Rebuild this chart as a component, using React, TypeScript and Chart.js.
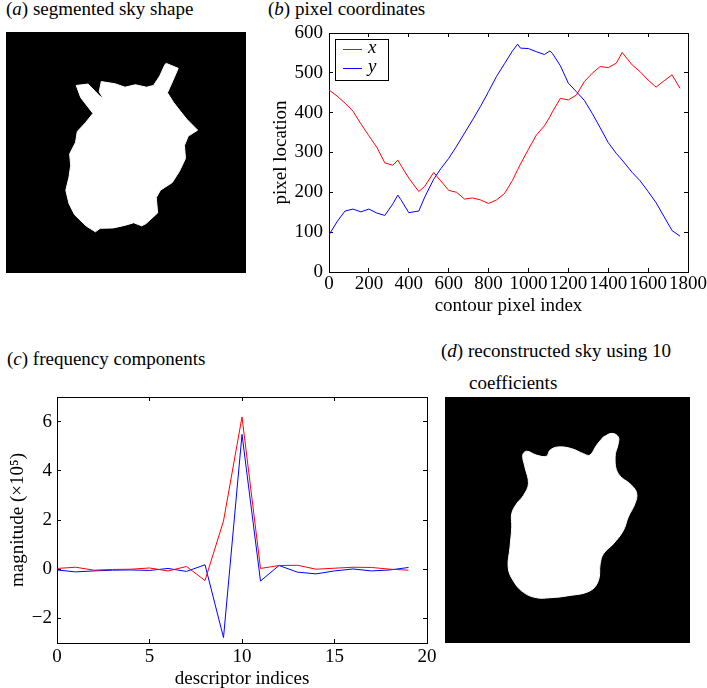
import React, { useEffect, useRef } from "react";
import { Chart, registerables } from "chart.js";

Chart.register(...registerables);

const FONT_FAMILY = "'Liberation Serif', serif";
const FONT_SIZE = 19;
const RED = "#ff0000";
const BLUE = "#0000ff";

// ---- (b) pixel coordinates along the sky contour ----
const contourIndex = [
  0, 40, 80, 120, 160, 200, 240, 280, 320, 345, 360, 400, 450, 480, 525, 560, 600, 640, 680, 720, 760, 800, 840, 880,
  920, 946, 960, 1000, 1040, 1080, 1108, 1120, 1160, 1200, 1240, 1280, 1320, 1360, 1400, 1440, 1470, 1520, 1560,
  1600, 1640, 1680, 1720, 1760,
];
const contourX = [
  457, 442, 424, 404, 372, 342, 313, 274, 268, 281, 268, 236, 202, 215, 250, 229, 205, 200, 183, 186, 181, 172, 181,
  197, 230, 257, 271, 308, 344, 367, 390, 402, 436, 432, 444, 478, 499, 516, 513, 524, 551, 520, 503, 482, 464, 480,
  495, 461,
];
const contourY = [
  93, 126, 153, 158, 151, 158, 148, 142, 171, 193, 182, 149, 153, 188, 233, 259, 285, 316, 349, 382, 416, 453, 491,
  523, 555, 572, 562, 561, 553, 546, 555, 549, 518, 474, 453, 431, 398, 362, 325, 298, 281, 250, 229, 202, 174, 139,
  104, 90,
];
const indexRange = [0, 1800];
const indexStep = 200;
const pixelRange = [0, 600];
const pixelStep = 100;

// ---- (c) frequency components ----
const descriptorIndex = [0, 1, 2, 3, 4, 5, 6, 7, 8, 9, 10, 11, 12, 13, 14, 15, 16, 17, 18, 19];
const magnitudeX = [
  0.03, 0.08, -0.04, -0.01, 0, 0.05, -0.07, 0.11, -0.46, 1.96, 6.19, 0.03, 0.15, 0.16, 0, 0.04, 0.08, 0.07, 0, -0.04,
];
const magnitudeY = [
  -0.03, -0.11, -0.07, -0.04, -0.03, -0.05, 0.03, -0.09, 0.18, -2.78, 5.48, -0.48, 0.15, -0.12, -0.19, -0.07, 0.01,
  -0.07, -0.03, 0.07,
];
const descriptorRange = [0, 20];
const descriptorTicks = [0, 5, 10, 15, 20];
const magnitudeRange = [-3, 7];
const magnitudeTicks = [-2, 0, 2, 4, 6];

// ---- (d) reconstructed contour (image pixel units) ----
const reconstructedX = [
  446, 470, 488, 488, 479, 488, 526, 540, 535, 516, 502, 474, 446, 437, 432, 408, 343, 296, 258, 221, 192, 178, 183,
  188, 188, 202, 221, 235, 225, 219, 230, 258, 286, 296, 319, 357, 390, 408, 427,
];
const reconstructedY = [
  112, 102, 112, 130, 168, 215, 248, 271, 299, 337, 375, 412, 440, 468, 515, 544, 558, 563, 563, 548, 515, 478, 422,
  365, 327, 299, 276, 243, 196, 163, 152, 163, 166, 149, 140, 145, 159, 163, 135,
];
const IMAGE_SIZE = 690;

const font = { family: FONT_FAMILY, size: FONT_SIZE };

function fixedSize(size: number) {
  return (scale: any) => {
    if (scale.isHorizontal()) scale.height = size;
    else scale.width = size;
    scale.paddingLeft = 0;
    scale.paddingRight = 0;
    scale.paddingTop = 0;
    scale.paddingBottom = 0;
  };
}

function makeAxis(o: {
  position: string;
  min: number;
  max: number;
  step?: number;
  values?: number[];
  size: number;
  labels: boolean;
  tickPad?: number;
  title?: string;
  titlePad?: any;
}) {
  return {
    type: "linear",
    position: o.position,
    min: o.min,
    max: o.max,
    afterBuildTicks: o.values
      ? (scale: any) => {
          scale.ticks = (o.values as number[]).map((v) => ({ value: v }));
        }
      : undefined,
    afterFit: fixedSize(o.size),
    grid: { display: true, drawOnChartArea: false, drawTicks: true, tickLength: -4, color: "#000", lineWidth: 1 },
    border: { display: true, color: "#000", width: 1 },
    ticks: {
      display: o.labels,
      stepSize: o.step,
      padding: o.tickPad ?? 0,
      color: "#000",
      font,
      maxRotation: 0,
      minRotation: 0,
      autoSkip: false,
      callback: (v: any) => String(v).replace("-", "\u2212"),
    },
    title: o.title
      ? { display: true, text: o.title, color: "#000", font, padding: o.titlePad }
      : { display: false },
  };
}

const baseOptions = {
  animation: false,
  responsive: false,
  events: [],
  plugins: { legend: { display: false }, tooltip: { enabled: false } },
};

function pixelCoordsConfig() {
  return {
    type: "scatter",
    data: {
      datasets: [
        {
          label: "x",
          data: contourIndex.map((i, k) => ({ x: i, y: contourX[k] })),
          showLine: true,
          borderColor: RED,
          borderWidth: 1,
          pointRadius: 0,
          fill: false,
        },
        {
          label: "y",
          data: contourIndex.map((i, k) => ({ x: i, y: contourY[k] })),
          showLine: true,
          borderColor: BLUE,
          borderWidth: 1,
          pointRadius: 0,
          fill: false,
        },
      ],
    },
    options: {
      ...baseOptions,
      layout: { padding: { top: 13, right: 19, left: 0, bottom: 0 } },
      scales: {
        x: makeAxis({
          position: "bottom", min: indexRange[0], max: indexRange[1], step: indexStep, size: 48, labels: true,
          tickPad: 5, title: "contour pixel index", titlePad: { top: 0, bottom: 3 },
        }),
        y: makeAxis({
          position: "left", min: pixelRange[0], max: pixelRange[1], step: pixelStep, size: 67, labels: true,
          tickPad: 10, title: "pixel location", titlePad: { top: 8, bottom: 0 },
        }),
        x2: makeAxis({ position: "top", min: indexRange[0], max: indexRange[1], step: indexStep, size: 0, labels: false }),
        y2: makeAxis({ position: "right", min: pixelRange[0], max: pixelRange[1], step: pixelStep, size: 0, labels: false }),
      },
    },
  };
}

function frequencyConfig() {
  return {
    type: "scatter",
    data: {
      datasets: [
        {
          label: "x",
          data: descriptorIndex.map((i, k) => ({ x: i, y: magnitudeX[k] })),
          showLine: true,
          borderColor: RED,
          borderWidth: 1,
          pointRadius: 0,
          fill: false,
        },
        {
          label: "y",
          data: descriptorIndex.map((i, k) => ({ x: i, y: magnitudeY[k] })),
          showLine: true,
          borderColor: BLUE,
          borderWidth: 1,
          pointRadius: 0,
          fill: false,
        },
      ],
    },
    options: {
      ...baseOptions,
      layout: { padding: { top: 22, right: 18, left: 0, bottom: 0 } },
      scales: {
        x: makeAxis({
          position: "bottom", min: descriptorRange[0], max: descriptorRange[1], values: descriptorTicks, size: 47,
          labels: true, tickPad: 7, title: "descriptor indices", titlePad: { top: 0, bottom: 0 },
        }),
        y: makeAxis({
          position: "left", min: magnitudeRange[0], max: magnitudeRange[1], values: magnitudeTicks, size: 57,
          labels: true, tickPad: 9, title: "magnitude (\u00d710\u2075)", titlePad: { top: 7, bottom: 0 },
        }),
        x2: makeAxis({ position: "top", min: descriptorRange[0], max: descriptorRange[1], values: descriptorTicks, size: 0, labels: false }),
        y2: makeAxis({ position: "right", min: magnitudeRange[0], max: magnitudeRange[1], values: magnitudeTicks, size: 0, labels: false }),
      },
    },
  };
}

function shapeConfig(xs: number[], ys: number[], tension: number) {
  const pts = xs.map((x, k) => ({ x, y: ys[k] }));
  pts.push(pts[0]);
  return {
    type: "scatter",
    data: {
      datasets: [
        {
          data: pts,
          showLine: true,
          fill: "shape",
          backgroundColor: "#ffffff",
          borderColor: "#ffffff",
          borderWidth: 1,
          pointRadius: 0,
          tension,
        },
      ],
    },
    options: {
      ...baseOptions,
      layout: { padding: 0 },
      scales: {
        x: { type: "linear", display: false, min: 0, max: IMAGE_SIZE },
        y: { type: "linear", display: false, min: 0, max: IMAGE_SIZE, reverse: true },
      },
    },
  };
}

function ChartBox(props: { left: number; top: number; width: number; height: number; background?: string; make: () => any }) {
  const ref = useRef<HTMLCanvasElement>(null);
  useEffect(() => {
    const chart = new Chart(ref.current as HTMLCanvasElement, props.make());
    return () => chart.destroy();
  }, []);
  return (
    <canvas
      ref={ref}
      width={props.width}
      height={props.height}
      style={{
        position: "absolute",
        left: props.left,
        top: props.top,
        width: props.width,
        height: props.height,
        background: props.background || "transparent",
      }}
    />
  );
}

const textStyle: React.CSSProperties = {
  position: "absolute",
  fontFamily: FONT_FAMILY,
  fontSize: FONT_SIZE,
  lineHeight: "19px",
  color: "#000",
  whiteSpace: "nowrap",
};

function Label(props: { left: number; top: number; children: React.ReactNode }) {
  return <div style={{ ...textStyle, left: props.left, top: props.top }}>{props.children}</div>;
}

const I = (s: string) => <span style={{ fontStyle: "italic" }}>{s}</span>;

export default function App() {
  return (
    <div
      style={{
        position: "absolute",
        left: 0,
        top: 0,
        width: 707,
        height: 688,
        overflow: "hidden",
        background: "#fff",
      }}
    >
      <Label left={6} top={-1}>({I("a")}) segmented sky shape</Label>
      <Label left={268} top={-1}>({I("b")}) pixel coordinates</Label>
      <Label left={7} top={349}>({I("c")}) frequency components</Label>
      <Label left={441} top={341}>({I("d")}) reconstructed sky using 10</Label>
      <Label left={469} top={373}>coefficients</Label>

      <ChartBox left={6} top={32} width={240} height={241} background="#000" make={() => shapeConfig(contourX, contourY, 0)} />
      <ChartBox left={262} top={20} width={445} height={300} make={pixelCoordsConfig} />
      <ChartBox left={0} top={375} width={445} height={315} make={frequencyConfig} />
      <ChartBox left={445} top={397} width={245} height={246} background="#000" make={() => shapeConfig(reconstructedX, reconstructedY, 0.4)} />

      <div
        style={{
          position: "absolute",
          left: 335,
          top: 39,
          width: 52,
          height: 40,
          border: "1px solid #000",
          background: "#fff",
        }}
      />
      <div style={{ position: "absolute", left: 343, top: 49, width: 19, height: 0, borderTop: `1px solid ${RED}` }} />
      <div style={{ position: "absolute", left: 343, top: 68, width: 19, height: 0, borderTop: `1px solid ${BLUE}` }} />
      <Label left={368} top={37}>{I("x")}</Label>
      <Label left={368} top={56}>{I("y")}</Label>
    </div>
  );
}
